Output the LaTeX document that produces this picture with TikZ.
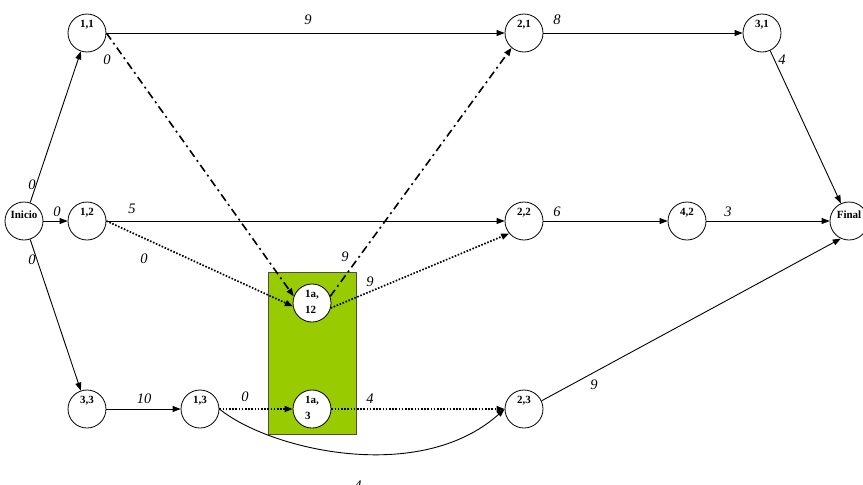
\documentclass[tikz,border=0pt]{standalone}
\usepackage{fontspec}
\setmainfont{Liberation Serif}
\usetikzlibrary{arrows.meta}
\definecolor{boxgreen}{HTML}{99CC00}
\begin{document}
\begin{tikzpicture}[x=1pt,y=-1pt,
  circ/.style={circle, draw, line width=0.8pt, minimum size=38pt, inner sep=0pt, fill=white},
  lbl/.style={font=\fontsize{11}{16}\selectfont\bfseries, inner sep=0pt, yshift=8pt},
  el/.style={font=\fontsize{14.5}{14.5}\selectfont\itshape, inner sep=0pt},
  arr/.style={line width=0.9pt, -{Triangle[length=8pt,width=6pt]}},
  dd/.style={arr, line width=1.6pt, dash pattern=on 8pt off 4pt on 2pt off 4pt},
  dt/.style={arr, line width=1.7pt, dash pattern=on 1.6pt off 1.6pt}]
\useasboundingbox (0,0) rectangle (863,485);
\fill[white] (0,0) rectangle (863,485);
\draw[fill=boxgreen, draw=black!70, line width=0.6pt] (268,272) rectangle (356,434);

\node[circ, label={[lbl, yshift=-2pt]center:Inicio}] (ini) at (24,221) {};
\node[circ, label={[lbl]center:{1,1}}] (n11) at (87,33) {};
\node[circ, label={[lbl]center:{1,2}}] (n12) at (87,221) {};
\node[circ, label={[lbl]center:{3,3}}] (n33) at (87,409) {};
\node[circ, label={[lbl]center:{1,3}}] (n13) at (200,409) {};
\node[circ, label={[lbl, align=left, yshift=-7pt]center:{1a,\\12}}] (a12) at (312,303) {};
\node[circ, label={[lbl, align=left, yshift=-7pt]center:{1a,\\3}}] (a3) at (312,409) {};
\node[circ, label={[lbl]center:{2,1}}] (n21) at (524,33) {};
\node[circ, label={[lbl]center:{2,2}}] (n22) at (524,221) {};
\node[circ, label={[lbl]center:{2,3}}] (n23) at (524,409) {};
\node[circ, label={[lbl]center:{3,1}}] (n31) at (762,33) {};
\node[circ, label={[lbl]center:{4,2}}] (n42) at (687,221) {};
\node[circ, label={[lbl, yshift=-2pt]center:Final}] (fin) at (849,221) {};

\draw[arr] (ini) -- (n11);
\draw[arr] (ini) -- (n12);
\draw[arr] (ini) -- (n33);
\draw[arr] (n11) -- (n21);
\draw[dd] (n11.east) -- (a12.160);
\draw[dd] (a12.20) -- (n21.230);
\draw[arr] (n12) -- (n22);
\draw[dt] (n12.east) -- (a12.190);
\draw[dt] (a12.-15) -- (n22.220);
\draw[arr] (n21) -- (n31);
\draw[arr] (n31) -- (fin);
\draw[arr] (n22) -- (n42);
\draw[arr] (n42) -- (fin);
\draw[arr] (n23.25) -- (fin.245);
\draw[arr] (n33) -- (n13);
\draw[dt] (n13) -- (a3);
\draw[dt] (a3) -- (n23);
\draw[arr] (n13.east) .. controls (270,450) and (420,485) .. (n23.west);

\node[el] (e1) at (32,185) {0};
\node[el] (e2) at (57,212) {0};
\node[el] (e3) at (32,260) {0};
\node[el] (e4) at (107,60) {0};
\node[el] (e5) at (308,20) {9};
\node[el] (e6) at (132,209) {5};
\node[el] (e7) at (144,259) {0};
\node[el] (e8) at (345,257) {9};
\node[el] (e9) at (370,282) {9};
\node[el] (e10) at (557,20) {8};
\node[el] (e11) at (782,60) {4};
\node[el] (e12) at (557,212) {6};
\node[el] (e13) at (728,212) {3};
\node[el] (e14) at (594,385) {9};
\node[el] (e15) at (144,399) {10};
\node[el] (e16) at (245,397) {0};
\node[el] (e17) at (370,399) {4};
\node[el] (e18) at (358,486) {4};
\end{tikzpicture}
\end{document}
